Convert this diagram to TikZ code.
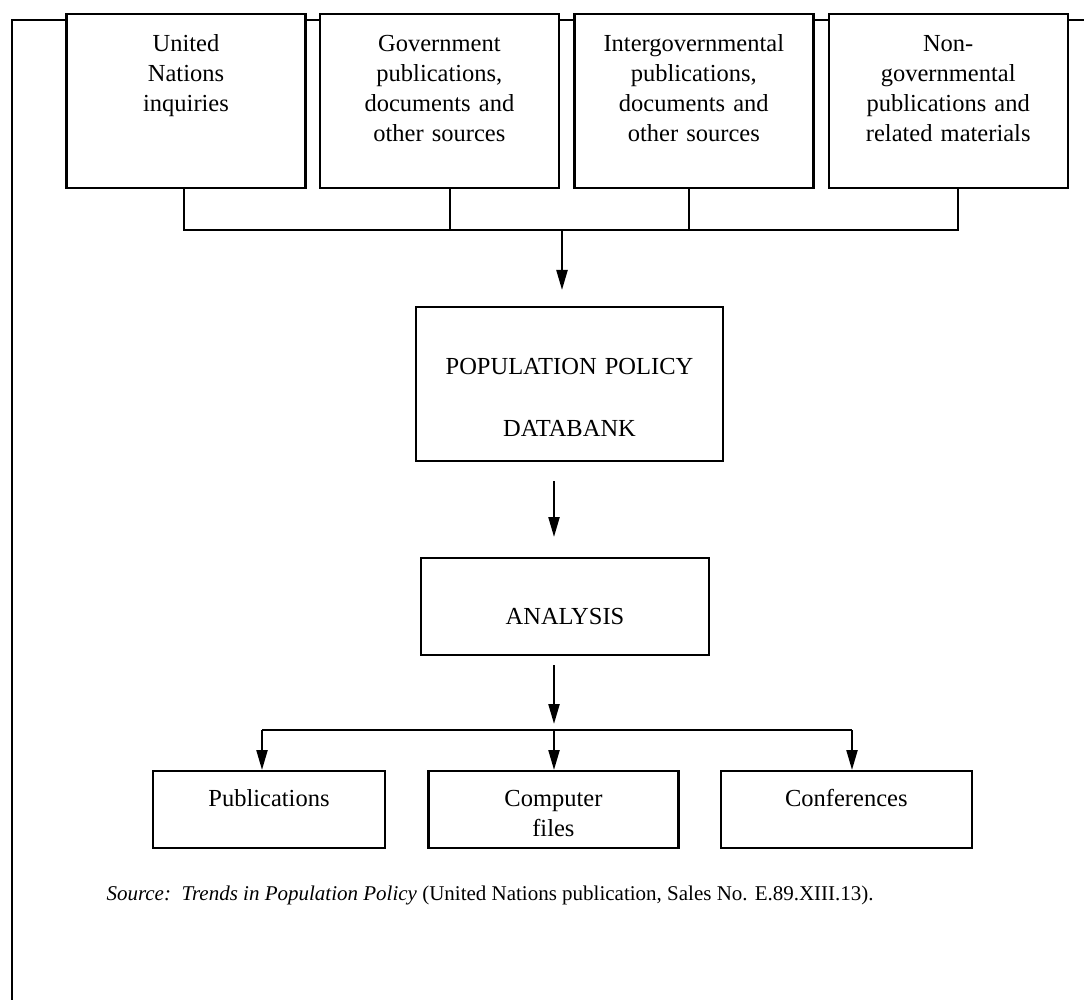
\documentclass[tikz,border=0pt]{standalone}
\usepackage{fontspec}
\setmainfont{Liberation Serif}
\usetikzlibrary{positioning,arrows.meta}

\begin{document}
\begin{tikzpicture}[x=1pt,y=-1pt,
  box/.style={draw, fill=white, line width=2.4pt, inner xsep=5pt, inner ysep=0pt, align=center, font=\fontsize{24.5}{30}\selectfont},
  topbox/.style={box, text width=229pt, text height=37pt, text depth=137pt},
  lowbox/.style={box, text height=35pt, text depth=42pt},
  bus/.style={line width=2.4pt},
  arr/.style={-{Triangle[length=20pt,width=11pt]}, line width=2.2pt}]
\useasboundingbox (0,0) rectangle (1084,1000);
\draw[line width=2pt] (1084,20) -- (12,20) -- (12,1000);

\node[topbox, anchor=north] (1) at (186,13) {United\\Nations\\inquiries};
\node[topbox, right=12pt of 1] (2) {Government\\publications,\\documents and\\other sources};
\node[topbox, right=13pt of 2] (3) {Intergovernmental\\publications,\\documents and\\other sources};
\node[topbox, right=13pt of 3] (4) {Non-\\governmental\\publications and\\related materials};
\node[box, anchor=north, text width=297pt, text height=67pt, text depth=87pt] (5) at (569.5,306) {POPULATION POLICY\\[32pt]DATABANK};
\node[box, anchor=north, text width=278pt, text height=66pt, text depth=31pt] (6) at (565,557) {ANALYSIS};
\node[lowbox, anchor=north, text width=222pt] (7) at (269,770) {Publications};
\node[lowbox, text width=240pt, right=41pt of 7] (8) {Computer\\files};
\node[lowbox, text width=241pt, right=40pt of 8] (9) {Conferences};
\node[anchor=west, font=\fontsize{21}{25}\selectfont] (src) at (103,895) {\textit{Source:}\ \ \textit{Trends in Population Policy} (United Nations publication, Sales No. E.89.XIII.13).};

% sources into the databank
\coordinate (b1) at (184,230);
\coordinate (b2) at (450,230);
\coordinate (b3) at (689,230);
\coordinate (b4) at (958,230);
\draw[bus] (b1 |- 1.south) -- (b1) -- (b4) -- (b4 |- 4.south);
\draw[bus] (b2) -- (b2 |- 2.south);
\draw[bus] (b3) -- (b3 |- 3.south);
\coordinate (a1) at (562,230);
\draw[arr, shorten >=16pt] (a1) -- (a1 |- 5.north);

% databank -> analysis -> outputs
\coordinate (a2) at (554,0);
\draw[arr, shorten <=19pt, shorten >=20pt] (5.south -| a2) -- (6.north -| a2);
\coordinate (c1) at (262,730);
\coordinate (c2) at (554,730);
\coordinate (c3) at (852,730);
\draw[arr, shorten <=9pt, shorten >=6pt] (6.south -| a2) -- (c2);
\draw[bus] (c1) -- (c3);
\draw[arr] (c1) -- (c1 |- 7.north);
\draw[arr] (c2) -- (c2 |- 8.north);
\draw[arr] (c3) -- (c3 |- 9.north);
\end{tikzpicture}
\end{document}
